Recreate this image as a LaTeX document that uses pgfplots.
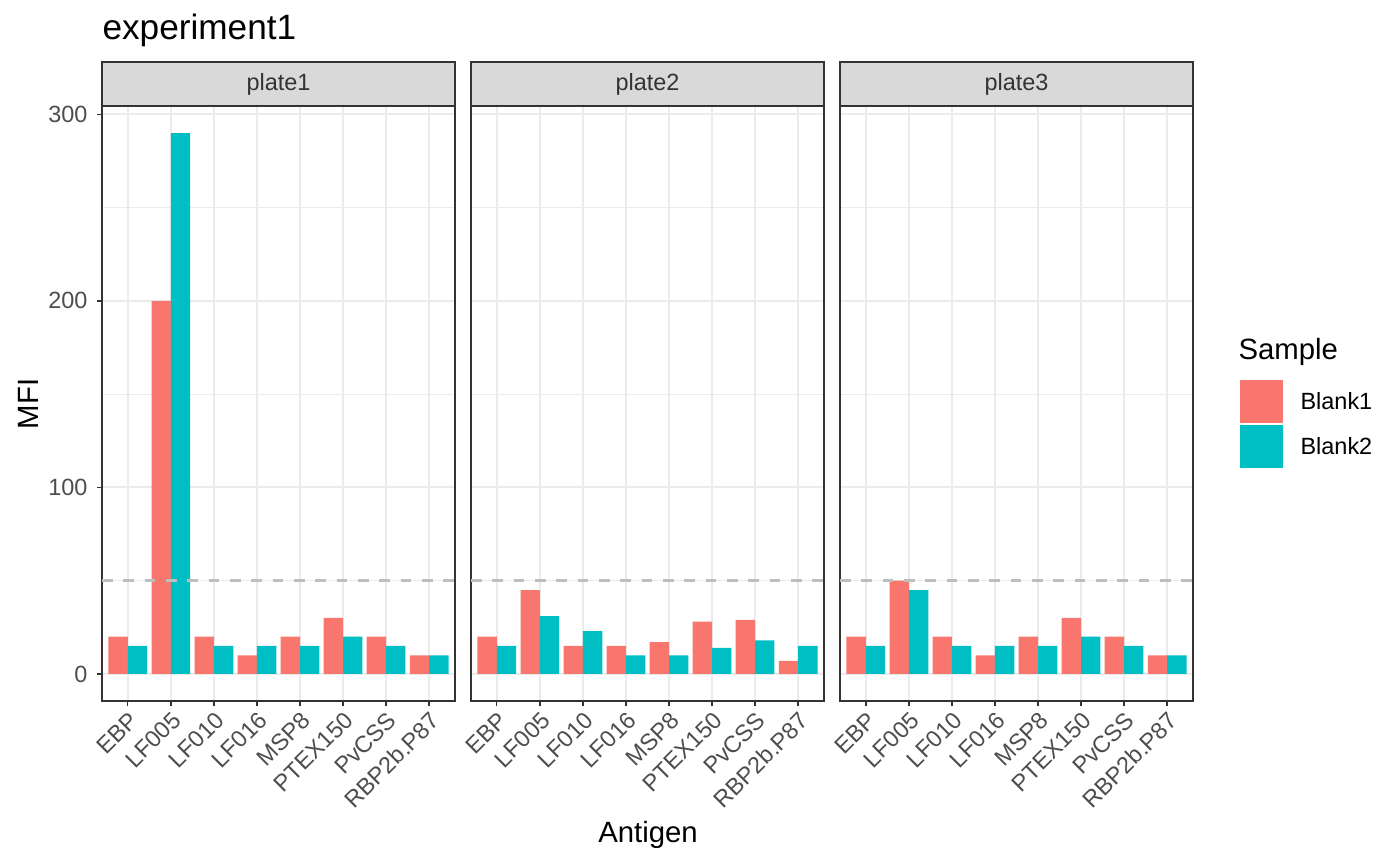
\documentclass[border=0pt]{standalone}
\usepackage{fontspec}
\setmainfont{Liberation Sans}
\usepackage{pgfplots}
\usepackage{pgfplotstable}
\pgfplotsset{compat=1.18}

\definecolor{blankone}{HTML}{F8766D}
\definecolor{blanktwo}{HTML}{00BFC4}
\definecolor{gridc}{HTML}{EBEBEB}
\definecolor{darkc}{HTML}{333333}
\definecolor{tickc}{HTML}{4D4D4D}
\definecolor{stripc}{HTML}{D9D9D9}
\definecolor{hlinec}{HTML}{BEBEBE}

% MFI per antigen (1..8), one table per plate
\pgfplotstableread{
x b1 b2
1 20 15
2 200 290
3 20 15
4 10 15
5 20 15
6 30 20
7 20 15
8 10 10
}\plateone
\pgfplotstableread{
x b1 b2
1 20 15
2 45 31
3 15 23
4 15 10
5 17 10
6 28 14
7 29 18
8 7 15
}\platetwo
\pgfplotstableread{
x b1 b2
1 20 15
2 50 45
3 20 15
4 10 15
5 20 15
6 30 20
7 20 15
8 10 10
}\platethree

\pgfplotsset{
  panel/.style={
    anchor=south west, scale only axis,
    width=132.375pt, height=223.125pt,
    xmin=0.4, xmax=8.6, ymin=-14.5, ymax=304.5,
    xtick={1,...,8},
    xticklabels={EBP,LF005,LF010,LF016,MSP8,PTEX150,PvCSS,RBP2b.P87},
    ytick={0,100,200,300}, minor ytick={50,150,250},
    /pgf/number format/assume math mode=true,
    grid=both,
    major grid style={draw=gridc, line width=0.8pt},
    minor grid style={draw=gridc, line width=0.4pt},
    axis line style={draw=darkc, line width=0.5pt},
    tick style={draw=darkc, line width=0.5pt},
    tick align=outside, tick pos=left,
    major tick length=1.9pt, minor tick length=0pt,
    ticklabel style={font=\fontsize{8.8}{10}\selectfont, text=tickc},
    xticklabel style={rotate=45, anchor=north east, inner sep=1pt},
  },
  b1/.style={ybar, bar width=0.45, bar shift=-0.225, fill=blankone, draw=none},
  b2/.style={ybar, bar width=0.45, bar shift=0.225, fill=blanktwo, draw=none},
  hl/.style={draw=hlinec, line width=0.9pt, dash pattern=on 4pt off 4pt},
}

\begin{document}
\begin{tikzpicture}
\path[use as bounding box] (0,0) rectangle (525pt,324.375pt);

\begin{axis}[panel, at={(38.25pt,61.5pt)}]
\addplot[b1] table[x=x,y=b1]{\plateone};
\addplot[b2] table[x=x,y=b2]{\plateone};
\addplot[hl] coordinates {(0.4,50) (8.6,50)};
\end{axis}

\begin{axis}[panel, at={(176.625pt,61.5pt)}, yticklabels={}, ytick style={draw=none}]
\addplot[b1] table[x=x,y=b1]{\platetwo};
\addplot[b2] table[x=x,y=b2]{\platetwo};
\addplot[hl] coordinates {(0.4,50) (8.6,50)};
\end{axis}

\begin{axis}[panel, at={(315pt,61.5pt)}, yticklabels={}, ytick style={draw=none}]
\addplot[b1] table[x=x,y=b1]{\platethree};
\addplot[b2] table[x=x,y=b2]{\platethree};
\addplot[hl] coordinates {(0.4,50) (8.6,50)};
\end{axis}

\begin{scope}[x=0.375pt, y=0.375pt]
  % facet strips
  \foreach \x/\lab in {102/plate1, 471/plate2, 840/plate3} {
    \draw[fill=stripc, draw=darkc, line width=0.5pt] (\x,759) rectangle ++(353,44);
    \node[text=darkc, font=\fontsize{8.8}{10}\selectfont] at (\x+176.5,781) {\lab};
  }
  % title and axis titles
  \node[anchor=base west, inner sep=0pt, font=\fontsize{13.2}{15}\selectfont] at (102,825) {experiment1};
  \node[font=\fontsize{11}{13}\selectfont] at (648,30) {Antigen};
  \node[rotate=90, font=\fontsize{11}{13}\selectfont] at (28,461) {MFI};
  % legend
  \node[anchor=west, inner sep=0pt, font=\fontsize{11}{13}\selectfont] at (1238,513) {Sample};
  \fill[blankone] (1240,442) rectangle (1283,485);
  \fill[blanktwo] (1240,397) rectangle (1283,440);
  \node[anchor=west, inner sep=0pt, font=\fontsize{8.8}{10}\selectfont] at (1300,463.5) {Blank1};
  \node[anchor=west, inner sep=0pt, font=\fontsize{8.8}{10}\selectfont] at (1300,418.5) {Blank2};
\end{scope}
\end{tikzpicture}
\end{document}
